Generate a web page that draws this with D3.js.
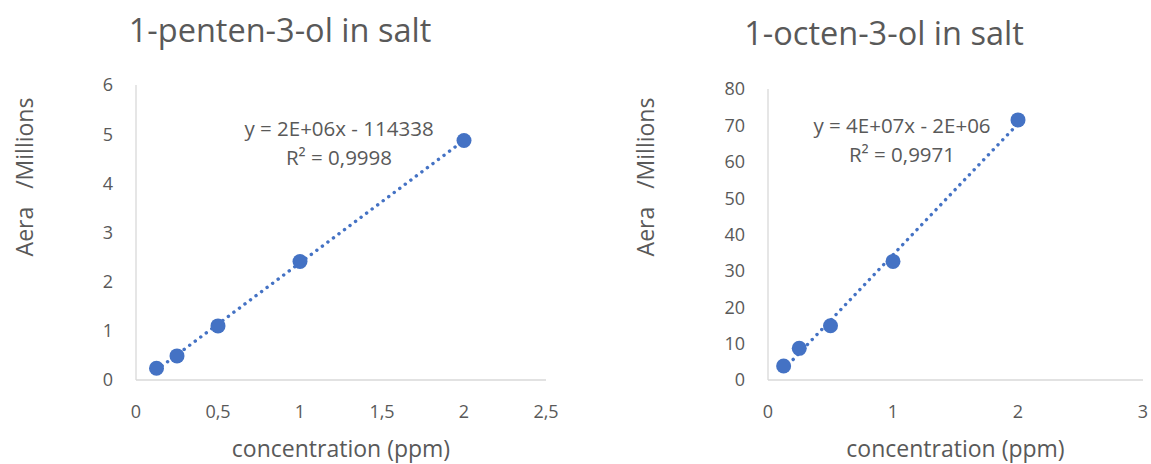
<!DOCTYPE html>
<html>
<head>
<meta charset="utf-8">
<script src="https://cdn.jsdelivr.net/npm/d3@7"></script>
<style>
  body { margin: 0; background: #fff; }
  svg { display: block; font-family: "Open Sans", sans-serif; }
</style>
</head>
<body>
<svg width="1151" height="464"></svg>
<script>
// concentration (ppm), shared by both series
const concentrations = [0.125, 0.25, 0.5, 1, 2];

// peak area, millions
const pentenolArea = [0.24, 0.49, 1.10, 2.41, 4.87];
const octenolArea = [3.85, 8.7, 14.9, 32.6, 71.5];

const pentenolXTicks = [0, 0.5, 1, 1.5, 2, 2.5];
const pentenolYTicks = [0, 1, 2, 3, 4, 5, 6];
const octenolXTicks = [0, 1, 2, 3];
const octenolYTicks = [0, 10, 20, 30, 40, 50, 60, 70, 80];

const titles = ["1-penten-3-ol in salt", "1-octen-3-ol in salt"];
const equations = [
  ["y = 2E+06x - 114338", "R\u00b2 = 0,9998"],
  ["y = 4E+07x - 2E+06", "R\u00b2 = 0,9971"]
];

const svg = d3.select("svg");
const textColor = "#595959";
const blue = "#4472C4";
const fmt = d => String(d).replace(".", ",");

function drawChart(opt) {
  const g = svg.append("g");
  const x = d3.scaleLinear().domain(opt.xDomain).range(opt.xRange);
  const y = d3.scaleLinear().domain(opt.yDomain).range(opt.yRange);

  // title
  g.append("text")
    .attr("x", opt.titleX).attr("y", opt.titleY)
    .attr("text-anchor", "middle")
    .attr("font-size", 32.5)
    .attr("fill", textColor)
    .text(opt.title);

  // axis lines
  g.append("line")
    .attr("x1", x.range()[0]).attr("x2", x.range()[0])
    .attr("y1", y.range()[0]).attr("y2", y.range()[1])
    .attr("stroke", "#d9d9d9").attr("stroke-width", 1.3);
  g.append("line")
    .attr("x1", x.range()[0]).attr("x2", x.range()[1])
    .attr("y1", y.range()[0]).attr("y2", y.range()[0])
    .attr("stroke", "#d9d9d9").attr("stroke-width", 1.3);

  // tick labels
  g.selectAll(".yt").data(opt.yTicks).join("text")
    .attr("x", x.range()[0] - 23)
    .attr("y", d => y(d))
    .attr("dy", "0.36em")
    .attr("text-anchor", "end")
    .attr("font-size", 18)
    .attr("fill", textColor)
    .text(fmt);
  g.selectAll(".xt").data(opt.xTicks).join("text")
    .attr("x", d => x(d))
    .attr("y", 418)
    .attr("text-anchor", "middle")
    .attr("font-size", 18)
    .attr("fill", textColor)
    .text(fmt);

  // axis titles
  g.append("text")
    .attr("x", (x.range()[0] + x.range()[1]) / 2)
    .attr("y", 457)
    .attr("text-anchor", "middle")
    .attr("font-size", 23)
    .attr("fill", textColor)
    .text("concentration (ppm)");
  g.append("text")
    .attr("transform", `translate(${opt.yTitleX},177) rotate(-90)`)
    .attr("text-anchor", "middle")
    .attr("font-size", 23)
    .attr("fill", textColor)
    .style("white-space", "pre")
    .text("Aera   /Millions");

  // linear trendline (least squares) over the data range
  const data = opt.xs.map((v, i) => [v, opt.ys[i]]);
  const mx = d3.mean(opt.xs), my = d3.mean(opt.ys);
  const slope = d3.sum(data, d => (d[0] - mx) * (d[1] - my)) / d3.sum(data, d => (d[0] - mx) ** 2);
  const icpt = my - slope * mx;
  const ext = d3.extent(opt.xs);
  g.append("path")
    .attr("d", d3.line().x(d => x(d)).y(d => y(slope * d + icpt))(ext))
    .attr("fill", "none")
    .attr("stroke", blue)
    .attr("stroke-width", 3.4)
    .attr("stroke-linecap", "round")
    .attr("stroke-dasharray", "0.1 6.8");

  // points
  g.selectAll("circle").data(data).join("circle")
    .attr("cx", d => x(d[0]))
    .attr("cy", d => y(d[1]))
    .attr("r", 7.5)
    .attr("fill", blue);

  // equation label
  g.selectAll(".eq").data(opt.eq).join("text")
    .attr("x", opt.eqX)
    .attr("y", (d, i) => opt.eqY + i * 29)
    .attr("text-anchor", "middle")
    .attr("font-size", 20.5)
    .attr("fill", textColor)
    .text(d => d);
}

drawChart({
  title: titles[0], titleX: 280, titleY: 42,
  xs: concentrations, ys: pentenolArea,
  xDomain: [0, 2.5], xRange: [136, 546],
  yDomain: [0, 6], yRange: [380, 85],
  xTicks: pentenolXTicks, yTicks: pentenolYTicks,
  yTitleX: 33,
  eq: equations[0], eqX: 339, eqY: 136
});

drawChart({
  title: titles[1], titleX: 884, titleY: 45,
  xs: concentrations, ys: octenolArea,
  xDomain: [0, 3], xRange: [768, 1143],
  yDomain: [0, 80], yRange: [380, 89],
  xTicks: octenolXTicks, yTicks: octenolYTicks,
  yTitleX: 654,
  eq: equations[1], eqX: 902, eqY: 133
});
</script>
</body>
</html>
